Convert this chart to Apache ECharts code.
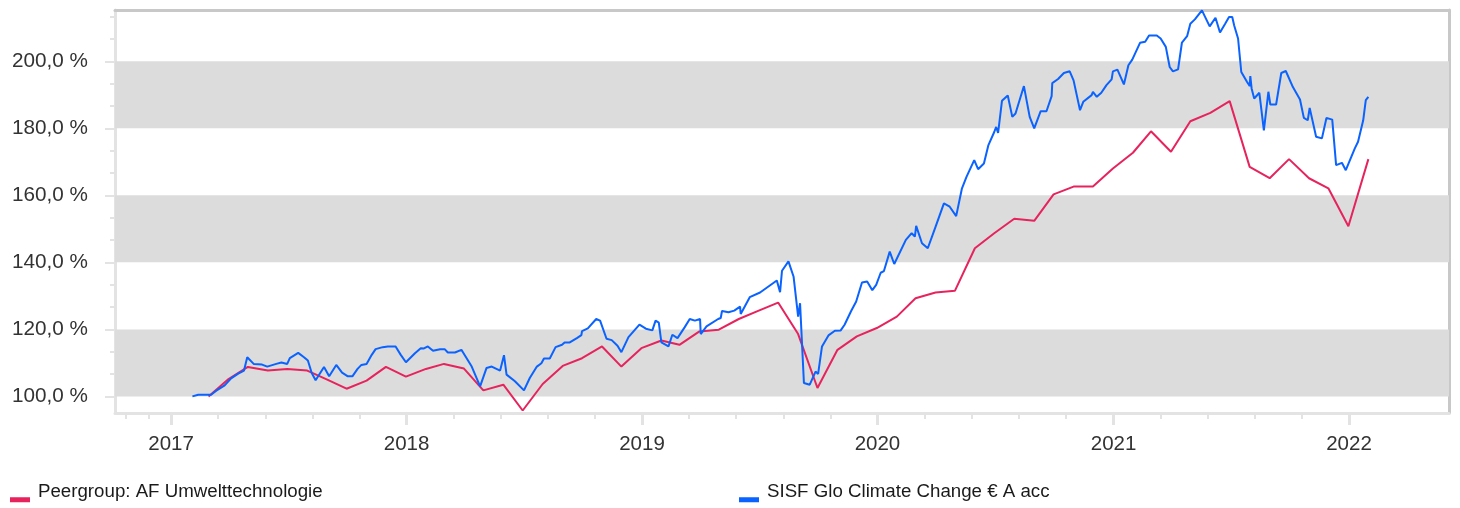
<!DOCTYPE html>
<html><head><meta charset="utf-8">
<script src="https://cdn.jsdelivr.net/npm/echarts@6/dist/echarts.min.js"></script>
<style>html,body{margin:0;padding:0;background:#fff}#c{width:1460px;height:508px}</style>
</head><body><div id="c"></div>
<script>
const seriesNames = ['Peergroup: AF Umwelttechnologie', 'SISF Glo Climate Change € A acc'];
const seriesColors = ['#e6235d', '#0a62ff'];

const peerDates = [
'2017-02-28','2017-03-31','2017-04-30','2017-05-31','2017-06-30','2017-07-31','2017-08-31','2017-09-30','2017-10-31','2017-11-30','2017-12-31',
'2018-01-31','2018-02-28','2018-03-31','2018-04-30','2018-05-31','2018-06-30','2018-07-31','2018-08-31','2018-09-30','2018-10-31','2018-11-30','2018-12-31',
'2019-01-31','2019-02-28','2019-03-31','2019-04-30','2019-05-31','2019-06-30','2019-07-31','2019-08-31','2019-09-30','2019-10-31','2019-11-30','2019-12-31',
'2020-01-31','2020-02-29','2020-03-31','2020-04-30','2020-05-31','2020-06-30','2020-07-31','2020-08-31','2020-09-30','2020-10-31','2020-11-30','2020-12-31',
'2021-01-31','2021-02-28','2021-03-31','2021-04-30','2021-05-31','2021-06-30','2021-07-31','2021-08-31','2021-09-30','2021-10-31','2021-11-30','2021-12-31',
'2022-01-31'];
const peerValues = [
100.0,105.2,108.8,107.7,108.2,107.7,105.0,102.3,104.7,108.8,105.9,
108.2,109.7,108.3,101.8,103.5,95.8,103.7,109.1,111.4,114.9,108.9,114.4,
116.7,115.4,119.4,119.9,123.1,125.5,128.0,118.6,102.5,113.9,117.9,120.4,
123.8,129.3,131.0,131.5,144.2,148.7,153.0,152.4,160.3,162.6,162.6,168.0,
172.7,179.1,173.0,182.1,184.6,188.1,168.5,165.1,170.8,165.1,162.1,150.8,
170.8];

const fundDates = [
'2017-02-03','2017-02-12','2017-03-04','2017-03-12','2017-03-25','2017-04-04','2017-04-15','2017-04-24','2017-04-29','2017-05-09',
'2017-05-22','2017-05-30','2017-06-13','2017-06-21','2017-06-30','2017-07-04','2017-07-17','2017-07-26','2017-08-01','2017-08-07',
'2017-08-13','2017-08-26','2017-09-03','2017-09-14','2017-09-23','2017-10-02','2017-10-09','2017-10-17','2017-10-23','2017-10-31',
'2017-11-08','2017-11-14','2017-11-25','2017-11-28','2017-12-03','2017-12-15','2017-12-23','2017-12-31',
'2018-01-14','2018-01-23','2018-01-28','2018-02-03','2018-02-11','2018-02-22','2018-03-01','2018-03-06','2018-03-17','2018-03-27',
'2018-03-30','2018-04-12','2018-04-25','2018-05-05','2018-05-13','2018-05-26','2018-06-01','2018-06-05','2018-06-18','2018-07-02',
'2018-07-11','2018-07-22','2018-07-29','2018-08-02','2018-08-11','2018-08-20','2018-08-30','2018-09-03','2018-09-11','2018-09-22',
'2018-09-29','2018-09-30','2018-10-09','2018-10-22','2018-10-28','2018-11-07','2018-11-15','2018-11-24','2018-11-30','2018-12-11',
'2018-12-28',
'2019-01-07','2019-01-17','2019-01-22','2019-01-27','2019-01-31','2019-02-11','2019-02-17','2019-02-25','2019-03-08','2019-03-16',
'2019-03-24','2019-04-01','2019-04-02','2019-04-11','2019-04-29','2019-05-03','2019-05-05','2019-05-15','2019-05-24','2019-06-02',
'2019-06-03','2019-06-17','2019-07-03','2019-07-29','2019-08-03','2019-08-06','2019-08-16','2019-08-24','2019-08-31','2019-09-03',
'2019-09-09','2019-09-18','2019-09-27','2019-10-01','2019-10-07','2019-10-17','2019-10-27','2019-11-05','2019-11-11','2019-11-21',
'2019-11-29','2019-12-08','2019-12-16','2019-12-24','2019-12-30',
'2020-01-06','2020-01-11','2020-01-20','2020-01-27','2020-02-14','2020-02-23','2020-02-28','2020-03-01','2020-03-10','2020-03-19',
'2020-03-31','2020-04-13','2020-04-22','2020-05-02','2020-05-11','2020-05-18','2020-05-30','2020-06-05','2020-06-14','2020-06-21',
'2020-06-30','2020-07-03','2020-07-06','2020-07-12','2020-07-21','2020-07-28','2020-08-02','2020-08-15','2020-08-24','2020-08-27',
'2020-08-31','2020-09-10','2020-09-19','2020-09-27','2020-09-28','2020-10-07','2020-10-16','2020-10-25','2020-10-31','2020-11-10',
'2020-11-15','2020-11-28','2020-11-30','2020-12-06','2020-12-13','2020-12-21','2020-12-29','2020-12-31',
'2021-01-07','2021-01-17','2021-01-24','2021-01-30','2021-02-04','2021-02-11','2021-02-19','2021-02-25','2021-03-09','2021-03-15',
'2021-03-23','2021-03-29','2021-04-03','2021-04-11','2021-04-17','2021-04-25','2021-04-30','2021-05-07','2021-05-18','2021-05-30',
'2021-06-08','2021-06-15','2021-06-23','2021-06-29','2021-07-04','2021-07-07','2021-07-13','2021-07-18','2021-07-27','2021-07-31',
'2021-08-01','2021-08-03','2021-08-07','2021-08-15','2021-08-22','2021-08-29','2021-09-01','2021-09-10','2021-09-18','2021-09-25',
'2021-10-06','2021-10-17','2021-10-23','2021-10-29','2021-11-01','2021-11-11','2021-11-20','2021-11-27','2021-12-06','2021-12-12',
'2021-12-21','2021-12-27',
'2022-01-10','2022-01-15','2022-01-23','2022-01-27','2022-01-31'];
const fundValues = [
100.0,100.5,100.5,101.7,103.3,105.4,106.8,107.7,111.7,109.7,
109.5,108.9,109.7,110.1,109.7,111.4,113.0,111.7,110.7,107.0,
104.8,108.8,106.0,109.4,107.1,106.0,106.0,108.2,109.4,109.7,
112.4,114.1,114.7,114.2,114.9,114.9,112.4,110.2,
112.9,114.4,114.3,114.9,113.6,114.1,114.1,113.1,113.1,113.9,
114.2,108.9,103.0,108.5,108.9,107.7,112.3,106.5,104.5,101.8,
105.5,108.9,109.9,111.3,111.3,114.7,115.4,116.1,116.1,117.4,
118.3,119.5,120.3,123.1,122.6,117.2,116.8,115.1,113.2,117.7,
121.4,
120.2,119.7,122.6,122.0,116.1,114.9,118.4,117.4,120.6,123.1,
122.6,123.1,118.6,120.9,123.1,123.4,125.5,125.1,125.6,126.8,
124.6,129.6,131.0,134.6,131.1,137.5,140.3,135.7,123.8,127.8,
104.0,103.5,107.4,106.7,114.9,118.2,119.6,119.7,121.4,125.4,
128.3,134.0,134.3,131.7,133.3,
136.9,137.4,143.2,139.5,146.7,148.7,147.7,150.9,145.7,144.2,
150.6,157.6,156.6,153.8,162.1,165.5,170.5,167.8,169.5,175.0,
178.9,180.4,178.6,188.2,189.8,183.4,184.4,192.6,183.4,182.9,
180.0,185.1,185.1,189.6,193.5,194.7,196.5,197.0,194.3,185.4,
187.9,189.9,190.9,189.4,190.6,192.9,194.6,197.0,
197.5,193.1,198.8,200.5,202.6,205.5,205.8,207.7,207.7,206.8,
204.3,198.3,197.0,197.6,205.6,207.5,211.2,212.5,215.2,210.4,
213.0,208.6,211.2,213.2,213.2,210.7,206.8,196.8,193.8,192.6,
195.6,191.9,188.9,190.6,179.4,190.9,187.1,187.1,196.5,197.1,
192.3,188.6,183.1,182.4,186.1,177.5,177.0,183.1,182.6,169.0,
169.7,167.5,
174.0,176.0,182.4,188.4,189.4];

const yLabelValues = [100, 120, 140, 160, 180, 200];
const yMinorTicks = [106.67, 113.33, 126.67, 133.33, 146.67, 153.33, 166.67, 173.33, 186.67, 193.33, 206.67, 213.33];
const bandRanges = [[100, 120], [140, 160], [180, 200]];
const yRange = [95.05, 215.3];

const xYearTicks = ['2017-01-01','2018-01-01','2019-01-01','2020-01-01','2021-01-01','2022-01-01'];
const xMinorTicks = ['2016-10-22','2016-11-28',
'2017-03-15','2017-05-27','2017-08-08','2017-10-20',
'2018-03-15','2018-05-27','2018-08-08','2018-10-20',
'2019-03-15','2019-05-27','2019-08-08','2019-10-20',
'2020-03-14','2020-05-26','2020-08-07','2020-10-19',
'2021-03-15','2021-05-27','2021-08-08','2021-10-20'];
const xRange = ['2016-10-06', '2022-06-05'];

const ts = s => Date.parse(s + 'T00:00:00');
const FONT = '"Liberation Sans", Arial, Helvetica, sans-serif';
const tickGray = '#e3e3e3';
const borderDark = '#c8c8c8';
// legend swatch: a thin bar sitting at the bottom of the item box
const LEGEND_ICON = 'path://M0,0L20,0L20,0.01L0,0.01Z M0,15.5L20,15.5L20,20.5L0,20.5Z';

const xMin = ts(xRange[0]), xMax = ts(xRange[1]);
const baseX = {type: 'value', min: xMin, max: xMax, gridIndex: 0, scale: true, splitLine: {show: false}};
const baseY = {type: 'value', min: yRange[0], max: yRange[1], gridIndex: 0, splitLine: {show: false}, splitArea: {show: false}};

const legendText = {fontFamily: FONT, fontSize: 18.7, color: '#1a1a1a', lineHeight: 22, padding: [0, 0, 0, 3]};

const chart = echarts.init(document.getElementById('c'), null, {renderer: 'canvas'});
chart.setOption({
  animation: false,
  backgroundColor: '#ffffff',
  grid: {left: 115, right: 11, top: 10, bottom: 95, containLabel: false},
  legend: [
    {left: 10, top: 481, padding: 0, icon: LEGEND_ICON, itemWidth: 20, itemHeight: 21,
     data: [seriesNames[0]], selectedMode: false, textStyle: legendText},
    {left: 739, top: 481, padding: 0, icon: LEGEND_ICON, itemWidth: 20, itemHeight: 21,
     data: [seriesNames[1]], selectedMode: false, textStyle: legendText}
  ],
  xAxis: [
    Object.assign({}, baseX, {
      position: 'bottom',
      axisLine: {show: true, onZero: false, lineStyle: {color: tickGray, width: 3}},
      axisTick: {show: true, length: 12, lineStyle: {color: tickGray, width: 3}, customValues: xYearTicks.map(ts)},
      axisLabel: {show: true, margin: 21, fontFamily: FONT, fontSize: 20.5, color: '#333333',
        customValues: xYearTicks.map(ts),
        formatter: v => String(new Date(v).getFullYear())}
    }),
    Object.assign({}, baseX, {
      position: 'bottom',
      axisLine: {show: false, onZero: false},
      axisTick: {show: true, length: 6, lineStyle: {color: tickGray, width: 2}, customValues: xMinorTicks.map(ts)},
      axisLabel: {show: false}
    }),
    Object.assign({}, baseX, {
      position: 'top',
      axisLine: {show: true, onZero: false, lineStyle: {color: borderDark, width: 3}},
      axisTick: {show: false}, axisLabel: {show: false}
    })
  ],
  yAxis: [
    Object.assign({}, baseY, {
      position: 'left',
      axisLine: {show: true, onZero: false, lineStyle: {color: tickGray, width: 3}},
      axisTick: {show: true, length: 10, lineStyle: {color: tickGray, width: 2}, customValues: yLabelValues},
      axisLabel: {show: true, margin: 27, fontFamily: FONT, fontSize: 20.7, color: '#333333',
        customValues: yLabelValues,
        formatter: v => v.toFixed(1).replace('.', ',') + ' %'}
    }),
    Object.assign({}, baseY, {
      position: 'left',
      axisLine: {show: false, onZero: false},
      axisTick: {show: true, length: 5, lineStyle: {color: tickGray, width: 2}, customValues: yMinorTicks},
      axisLabel: {show: false}
    }),
    Object.assign({}, baseY, {
      position: 'right',
      axisLine: {show: true, onZero: false, lineStyle: {color: borderDark, width: 3}},
      axisTick: {show: false}, axisLabel: {show: false}
    })
  ],
  series: [
    {
      name: 'bands', type: 'line', xAxisIndex: 0, yAxisIndex: 0, data: [], z: 1, silent: true,
      markArea: {silent: true, itemStyle: {color: '#dcdcdc'},
        data: bandRanges.map(r => [{yAxis: r[0]}, {yAxis: r[1]}])}
    },
    {
      name: seriesNames[0], type: 'line', xAxisIndex: 0, yAxisIndex: 0, z: 3,
      showSymbol: false, symbol: 'none', color: seriesColors[0],
      lineStyle: {color: seriesColors[0], width: 2},
      data: peerDates.map((d, i) => [ts(d), peerValues[i]])
    },
    {
      name: seriesNames[1], type: 'line', xAxisIndex: 0, yAxisIndex: 0, z: 4,
      showSymbol: false, symbol: 'none', color: seriesColors[1],
      lineStyle: {color: seriesColors[1], width: 2},
      data: fundDates.map((d, i) => [ts(d), fundValues[i]])
    }
  ]
});
</script>
</body></html>
